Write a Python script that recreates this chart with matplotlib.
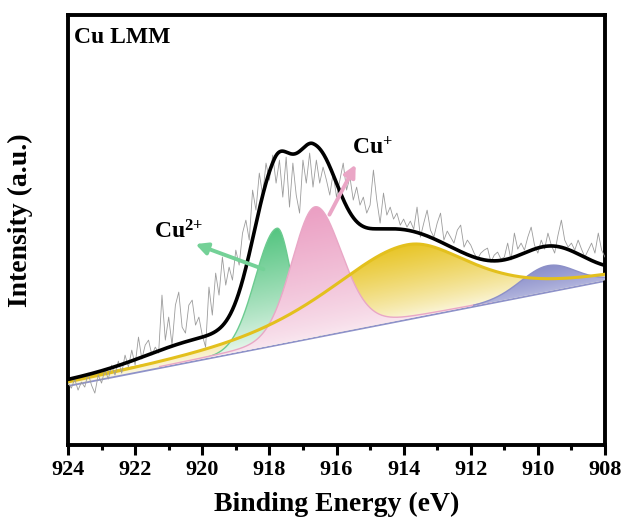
import numpy as np
import matplotlib
matplotlib.use('Agg')
import matplotlib.pyplot as plt
from matplotlib.colors import LinearSegmentedColormap
from matplotlib.patches import PathPatch
from matplotlib.ticker import MultipleLocator

plt.rcParams['font.family'] = ['Liberation Serif', 'DejaVu Serif']
plt.rcParams['font.weight'] = 'bold'
plt.rcParams['mathtext.fontset'] = 'custom'
plt.rcParams['mathtext.rm'] = 'Liberation Serif:bold'
plt.rcParams['mathtext.bf'] = 'Liberation Serif:bold'
plt.rcParams['mathtext.it'] = 'Liberation Serif:bold'

# raw spectrum, 924.0 -> 908.0 eV in 0.1 eV steps (arbitrary units)
raw_start, raw_step = 924.0, -0.1
raw_counts = [
    62, 57, 66, 55, 63, 58, 72, 60, 52, 70,
    62, 76, 66, 80, 70, 84, 72, 90, 78, 95,
    80, 108, 86, 100, 105, 90, 98, 92, 150, 105,
    128, 100, 140, 153, 118, 112, 140, 145, 120, 128,
    110, 98, 158, 130, 172, 150, 188, 160, 178, 165,
    195, 180, 212, 225, 205, 255, 235, 272, 250, 282,
    265, 290, 262, 285, 248, 288, 238, 282, 250, 232,
    285, 262, 292, 258, 285, 262, 278, 265, 250, 272,
    248, 265, 282, 255, 268, 245, 258, 240, 248, 232,
    240, 275, 245, 222, 252, 230, 238, 226, 232, 220,
    226, 218, 224, 216, 238, 208, 222, 235, 215, 208,
    222, 232, 205, 214, 208, 202, 215, 220, 198, 205,
    200, 192, 186, 192, 195, 197, 183, 190, 193, 186,
    188, 202, 185, 212, 196, 202, 195, 208, 218, 200,
    192, 205, 196, 212, 200, 192, 210, 225, 205, 198,
    202, 195, 205, 196, 188, 195, 202, 192, 212, 195,
    188,
]

# linear background (value at 924 eV, value at 908 eV)
background_ends = [60.0, 165.0]

# fitted components: centre (eV), height, fwhm on high-BE side, fwhm on low-BE side
comp_names = ['Cu2+', 'Cu+', 'sat', 'Cu0']
comp_centers = [917.77, 916.64, 913.9, 909.7]
comp_heights = [116.0, 130.0, 74.0, 25.6]
comp_fwhm_high = [1.53, 1.65, 5.6, 1.9]
comp_fwhm_low = [0.94, 1.88, 4.5, 1.9]
comp_lorentz = [0.0, 0.15, 0.6, 0.0]
comp_top = ['#55c581', '#eb9fc3', '#e8c526', '#8b8fca']
comp_bottom = ['#ecf8f0', '#f9e6ef', '#fbf6dc', '#b3b6de']
comp_edge = ['#6ccb90', '#e9a7c6', '#e3c01d', '#8c90c8']
yellow_floor = 4.5

# envelope curve: centre, height, sigma on high-BE side, sigma on low-BE side
env_centers = [920.0, 917.85, 916.7, 914.6, 909.6]
env_heights = [16.0, 150.0, 143.0, 88.0, 33.0]
env_sig_high = [1.6, 0.65, 0.55, 1.5, 0.98]
env_sig_low = [1.6, 0.5, 0.7, 2.2, 0.98]
env_offset = 5.0

x_ticks = [924, 922, 920, 918, 916, 914, 912, 910, 908]


def background(e):
    lo, hi = background_ends
    return lo + (924.0 - e) / 16.0 * (hi - lo)


def pseudo_voigt(e, c, h, fw_high, fw_low, eta):
    fw = np.where(e > c, fw_high, fw_low)
    r2 = ((e - c) / fw) ** 2
    g = np.exp(-4 * np.log(2) * r2)
    lor = 1.0 / (1.0 + 4 * r2)
    return h * ((1 - eta) * g + eta * lor)


def split_gauss(e, c, h, s_high, s_low):
    s = np.where(e > c, s_high, s_low)
    return h * np.exp(-0.5 * ((e - c) / s) ** 2)


def gradient_fill(ax, e, low, high, height, top, bottom, zorder):
    poly = ax.fill_between(e, low, high, facecolor='none', edgecolor='none')
    path = poly.get_paths()[0]
    ys = np.linspace(low.min(), high.max(), 300)
    frac = (ys[:, None] - low[None, :]) / height
    frac = np.clip(frac, 0, 1) ** 0.8
    cmap = LinearSegmentedColormap.from_list('g', [bottom, top])
    im = ax.imshow(frac, extent=[e[0], e[-1], ys[0], ys[-1]], origin='lower',
                   aspect='auto', cmap=cmap, vmin=0, vmax=1, zorder=zorder,
                   interpolation='bilinear')
    im.set_clip_path(PathPatch(path, transform=ax.transData))


fig = plt.figure(figsize=(6.25, 5.28), dpi=100)
ax = fig.add_axes([0.1088, 0.157, 0.8592, 0.8144])

e = np.linspace(924, 908, 1601)
base = background(e)

raw_e = raw_start + raw_step * np.arange(len(raw_counts))
ax.plot(raw_e, raw_counts, color='#9c9c9c', lw=0.6, zorder=6)

# background lines
ax.plot(e, base, color='#8e92c9', lw=2.6, zorder=2, solid_capstyle='butt')
ax.plot(e, base + yellow_floor, color='#e4c21f', lw=2.4, zorder=2.5, solid_capstyle='butt')

orders = {'sat': 3, 'Cu2+': 4, 'Cu+': 4.5, 'Cu0': 5}
for i, name in enumerate(comp_names):
    comp = pseudo_voigt(e, comp_centers[i], comp_heights[i], comp_fwhm_high[i],
                        comp_fwhm_low[i], comp_lorentz[i])
    mask = comp > 0.6
    ee = e[mask]
    lo = base[mask]
    hi = base[mask] + comp[mask]
    z = orders[name]
    gradient_fill(ax, ee, lo, hi, comp_heights[i], comp_top[i], comp_bottom[i], z)
    if name == 'sat':
        ax.plot(ee, hi, color=comp_edge[i], lw=2.2, zorder=5.5)
    else:
        ax.plot(ee, hi, color=comp_edge[i], lw=1.0, zorder=z)

envelope = base + env_offset
for c, h, sh, sl in zip(env_centers, env_heights, env_sig_high, env_sig_low):
    envelope = envelope + split_gauss(e, c, h, sh, sl)
ax.plot(e, envelope, color='black', lw=2.6, zorder=7)

# labels with arrows
ax.annotate('', xy=(920.28, 202), xytext=(918.1, 175),
            arrowprops=dict(arrowstyle='-|>,head_length=0.7,head_width=0.35',
                            color='#74d197', lw=2.8), zorder=8)
ax.annotate('', xy=(915.39, 283), xytext=(916.25, 228),
            arrowprops=dict(arrowstyle='-|>,head_length=0.7,head_width=0.35',
                            color='#eaa6c6', lw=2.8), zorder=8)
ax.text(921.45, 213, r'Cu$^{2{+}}$', fontsize=17, fontweight='bold', ha='left', va='center', zorder=9)
ax.text(915.55, 297, r'Cu$^{+}$', fontsize=17, fontweight='bold', ha='left', va='center', zorder=9)
ax.text(0.012, 0.948, 'Cu LMM', transform=ax.transAxes, fontsize=17, fontweight='bold',
        ha='left', va='center')

ax.set_xlim(924, 908)
ax.set_ylim(0, 430)
ax.set_xticks(x_ticks)
ax.xaxis.set_minor_locator(MultipleLocator(1))
ax.set_yticks([])
ax.tick_params(axis='x', which='major', direction='out', length=7, width=2.2,
               labelsize=16, pad=4)
ax.tick_params(axis='x', which='minor', direction='out', length=3.5, width=2.2)
for lab in ax.get_xticklabels():
    lab.set_fontweight('bold')
for sp in ax.spines.values():
    sp.set_linewidth(2.8)
ax.set_xlabel('Binding Energy (eV)', fontsize=20, fontweight='bold', labelpad=8)
ax.set_ylabel('Intensity (a.u.)', fontsize=20, fontweight='bold')
ax.yaxis.set_label_coords(-0.066, 0.523)

fig.savefig('out.png', dpi=100)
